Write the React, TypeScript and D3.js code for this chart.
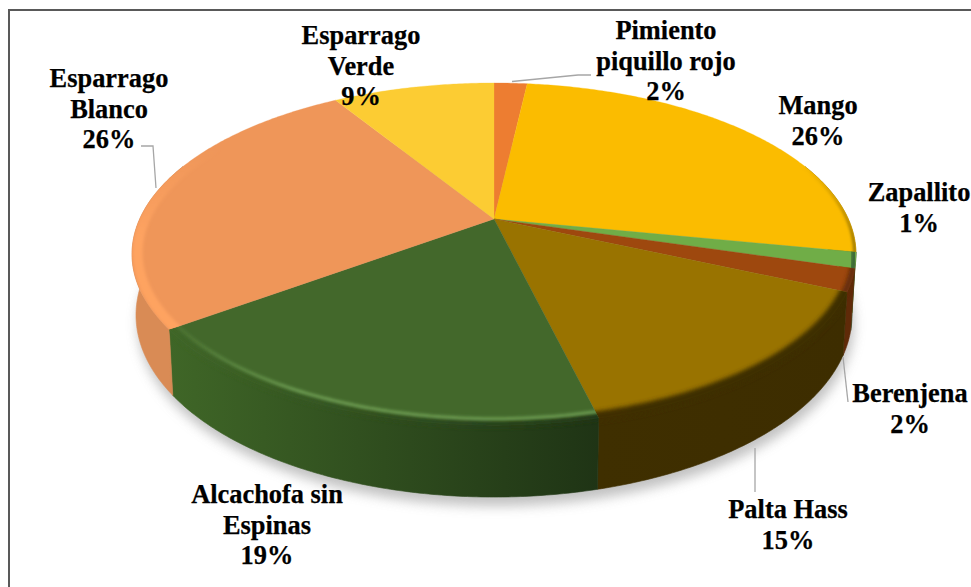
import React from "react";
import * as d3 from "d3";

const categories = ["Pimiento piquillo rojo", "Mango", "Zapallito", "Berenjena", "Palta Hass", "Alcachofa sin Espinas", "Esparrago Blanco", "Esparrago Verde"];
const values = [1.8, 26.3, 1.5, 2.1, 14.5, 18.7, 26.3, 8.8];
const percentLabels = ["2%", "26%", "1%", "2%", "15%", "19%", "26%", "9%"];

const topColors = ["#ed7d31", "#fbbc00", "#70ad47", "#9e480e", "#997300", "#43682b", "#ef9659", "#fccc33"];
const wallLeft = ["#b05a20", "#8a6a00", "#2e5530", "#5f2a08", "#3f2f00", "#3f6627", "#d98b55", "#b08a20"];
const wallRight = ["#b05a20", "#8a6a00", "#2e5530", "#5f2a08", "#3d2d00", "#1f3415", "#c47c48", "#b08a20"];
const rimColors = ["none", "#8f6e00", "none", "none", "none", "#6f9f55", "#fea361", "none"];
const rimWidths = [0, 3, 0, 0, 0, 3, 10, 0];
const softWidths = [0, 0, 5, 6, 11, 7, 0, 0];

const labelLines = [["Pimiento", "piquillo rojo", "2%"], ["Mango", "26%"], ["Zapallito", "1%"], ["Berenjena", "2%"], ["Palta Hass", "15%"], ["Alcachofa sin", "Espinas", "19%"], ["Esparrago", "Blanco", "26%"], ["Esparrago", "Verde", "9%"]];
const labelX = [666, 818, 919, 910, 788, 267, 109, 361];
const labelY = [39, 114, 201, 402, 518, 503, 87, 44];
const leaders: [number, number][][] = [
  [[512, 81.5], [578, 75], [591, 75]],
  [], [],
  [[843, 357], [848, 402]],
  [[755, 448], [755, 492]],
  [],
  [[141, 146], [153, 146], [156, 188]],
  [],
];

const CX = 494, K = 0.205;
const TOP = { y0: 219, S: 163.9, R: 354.3 };
const BOT = { y0: 277.7, S: 174.4, R: 350.4 };
type Proj = typeof TOP;

function project(a: number, p: Proj, scale = 1): [number, number] {
  const u = Math.sin(a) * scale, v = -Math.cos(a) * scale;
  const w = 1 - K * v;
  return [CX + (p.R * u) / w, p.y0 + (p.S * v) / w];
}
function samples(a0: number, a1: number): number[] {
  const n = Math.max(2, Math.ceil(Math.abs(a1 - a0) / 0.01));
  return d3.range(n + 1).map((i) => a0 + ((a1 - a0) * i) / n);
}
const line = d3.line<[number, number]>();

const slices = d3.pie<number>().sort(null).value((d) => d)(values);
const deg = Math.PI / 180;
const VIS0 = 70 * deg, VIS1 = 290 * deg;
const SOFT0 = 60 * deg;
const full = samples(0, Math.PI * 2);

function topPath(a0: number, a1: number) {
  return line([[CX, TOP.y0], ...samples(a0, a1).map((a) => project(a, TOP))]) + "Z";
}
function wallPath(a0: number, a1: number) {
  const s = samples(a0, a1);
  return line([...s.map((a) => project(a, TOP)), ...s.slice().reverse().map((a) => project(a, BOT))]) + "Z";
}
function arcPath(a0: number, a1: number, scale = 1) {
  return line(samples(a0, a1).map((a) => project(a, TOP, scale))) || "";
}

export default function App() {
  return (
    <svg width={971} height={587} style={{ position: "absolute", left: 0, top: 0 }} fontFamily="'Liberation Serif', serif">
      <defs>
        <filter id="shadow" x="-10%" y="-10%" width="120%" height="120%"><feGaussianBlur stdDeviation="6" /></filter>
        <filter id="b2" x="-10%" y="-10%" width="120%" height="120%"><feGaussianBlur stdDeviation="2.2" /></filter>
        <filter id="b1" x="-10%" y="-10%" width="120%" height="120%"><feGaussianBlur stdDeviation="1.4" /></filter>
        <linearGradient id="orangeRim" gradientUnits="userSpaceOnUse" x1={0} x2={0} y1={150} y2={240}>
          <stop offset="0" stopColor="#fea361" stopOpacity={0} />
          <stop offset="1" stopColor="#fea361" stopOpacity={1} />
        </linearGradient>
        <linearGradient id="greenRim" gradientUnits="userSpaceOnUse" x1={170} x2={300} y1={0} y2={0}>
          <stop offset="0" stopColor="#6f9f55" stopOpacity={0.15} />
          <stop offset="1" stopColor="#6f9f55" stopOpacity={1} />
        </linearGradient>
        <linearGradient id="mangoRim" gradientUnits="userSpaceOnUse" x1={0} x2={0} y1={165} y2={240}>
          <stop offset="0" stopColor="#8f6e00" stopOpacity={0} />
          <stop offset="1" stopColor="#8f6e00" stopOpacity={1} />
        </linearGradient>
        {slices.map((s, i) => {
          const a0 = Math.max(s.startAngle, VIS0), a1 = Math.min(s.endAngle, VIS1);
          const xs = a1 > a0 ? [project(a0, TOP)[0], project(a1, TOP)[0]] : [0, 1];
          return (
            <React.Fragment key={i}>
              <linearGradient id={`wall${i}`} gradientUnits="userSpaceOnUse" x1={Math.min(...xs)} x2={Math.max(...xs)} y1={0} y2={0}>
                <stop offset="0" stopColor={wallLeft[i]} />
                <stop offset="1" stopColor={wallRight[i]} />
              </linearGradient>
              <clipPath id={`clip${i}`}><path d={topPath(s.startAngle, s.endAngle)} /></clipPath>
              <clipPath id={`solid${i}`}>
                <path d={topPath(s.startAngle, s.endAngle)} />
                {a1 > a0 ? <path d={wallPath(a0, a1)} /> : null}
              </clipPath>
            </React.Fragment>
          );
        })}
      </defs>

      <path d="M9,590 V10 H975" fill="none" stroke="#595959" strokeWidth={2} />

      <path d={(line(full.map((a) => project(a, BOT))) || "") + "Z"} transform="translate(2,9)" fill="#a8a8a8" opacity={0.7} filter="url(#shadow)" />

      {slices.map((s, i) => {
        const a0 = Math.max(s.startAngle, VIS0), a1 = Math.min(s.endAngle, VIS1);
        return a1 > a0 ? <path key={i} d={wallPath(a0, a1)} fill={`url(#wall${i})`} stroke={`url(#wall${i})`} strokeWidth={0.6} /> : null;
      })}

      {slices.map((s, i) => (
        <path key={i} d={topPath(s.startAngle, s.endAngle)} fill={topColors[i]} stroke={topColors[i]} strokeWidth={0.3} />
      ))}

      {/* soft transition from top face into the wall */}
      {slices.map((s, i) => {
        const a0 = Math.max(s.startAngle, VIS0), a1 = Math.min(s.endAngle, VIS1);
        if (a1 <= a0 || softWidths[i] === 0) return null;
        return (
          <g key={i} clipPath={`url(#solid${i})`}>
            <path d={arcPath(a0 - 2 * deg, a1 + 2 * deg, 0.995)} fill="none" stroke={`url(#wall${i})`} strokeWidth={softWidths[i]} filter="url(#b2)" />
          </g>
        );
      })}

      {/* bevel along the rim, kept inside its own slice */}
      {slices.map((s, i) => {
        if (rimColors[i] === "none") return null;
        const a0 = Math.max(s.startAngle, i === 1 ? SOFT0 : VIS0), a1 = Math.min(s.endAngle, i === 6 ? 300 * deg : VIS1);
        if (a1 <= a0) return null;
        const stroke = i === 6 ? "url(#orangeRim)" : i === 5 ? "url(#greenRim)" : i === 1 ? "url(#mangoRim)" : rimColors[i];
        const scale = i === 6 ? 0.985 : i === 1 ? 0.997 : 0.975;
        return (
          <g key={i} clipPath={`url(#clip${i})`}>
            <path d={arcPath(a0 - 2 * deg, a1 + 2 * deg, scale)} fill="none" stroke={stroke} strokeWidth={rimWidths[i]} filter="url(#b1)" />
          </g>
        );
      })}

      {leaders.map((pts, i) =>
        pts.length ? <path key={i} d={line(pts) || ""} fill="none" stroke="#a6a6a6" strokeWidth={1.3} /> : null
      )}

      {labelLines.map((lines, i) => (
        <text key={categories[i]} x={labelX[i]} y={labelY[i]} textAnchor="middle" fontSize={26.4} fontWeight="bold" fill="#000" stroke="#000" strokeWidth={0.25}>
          {lines.map((t, j) => (
            <tspan key={j} x={labelX[i]} dy={j === 0 ? 0 : 30.5}>{j === lines.length - 1 ? percentLabels[i] : t}</tspan>
          ))}
        </text>
      ))}
    </svg>
  );
}
